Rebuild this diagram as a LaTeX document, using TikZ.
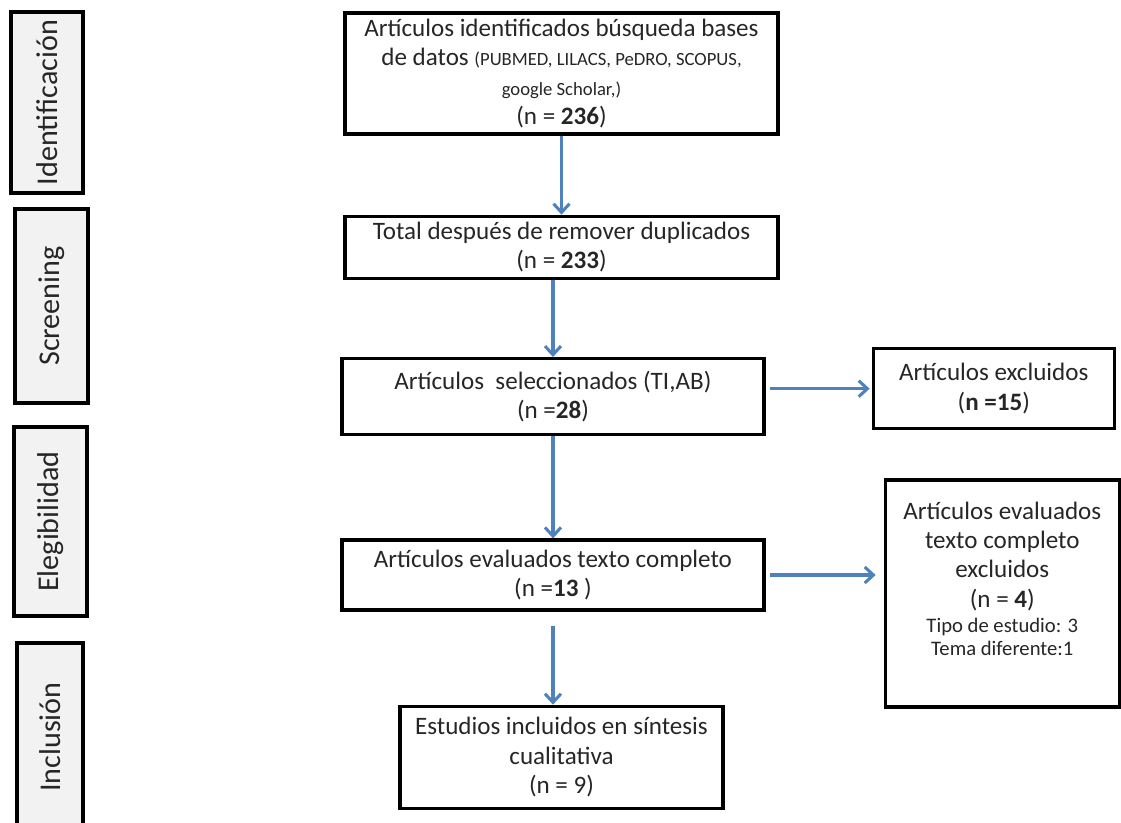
\documentclass[tikz,border=0pt]{standalone}
\usepackage{fontspec}
\setmainfont{Carlito}
\usepackage{tikz}
\usetikzlibrary{positioning,arrows.meta}
\definecolor{flecha}{RGB}{79,129,189}
\definecolor{fondofase}{RGB}{242,242,242}
\definecolor{textocaja}{RGB}{38,38,38}

\begin{document}
\begin{tikzpicture}[x=0.75pt, y=-0.75pt,
    caja/.style={draw=black, line width=2.5pt, align=center, text=textocaja,
                 font=\fontsize{18.8}{22}\selectfont, inner sep=2pt},
    fase/.style={draw=black, line width=2.9pt, fill=fondofase, rotate=90, text=textocaja,
                 font=\fontsize{22.6}{26}\selectfont, inner sep=2pt},
    flujo/.style={draw=flecha, line width=2.3pt, -{Straight Barb[length=6.5pt,width=12pt]}}]
  \useasboundingbox (0,0) rectangle (1121,822);
  \clip (0,0) rectangle (1121,822);
  \node[fase, minimum width=135.75pt, minimum height=54pt] (fid) at (47,102.5) {Identificación};
  \node[fase, minimum width=145.5pt, minimum height=54.75pt] (fsc) at (51.5,306) {Screening};
  \node[fase, minimum width=141.75pt, minimum height=54.75pt] (fel) at (50.5,521.5) {Elegibilidad};
  \node[fase, minimum width=141pt, minimum height=49.5pt] (fin) at (50,737) {Inclusión};
  \node[caja, minimum width=324.75pt, minimum height=90.75pt] (busq) at (561.5,73.5) {%
    Artículos identificados búsqueda bases\\
    de datos {\fontsize{14}{16}\selectfont (PUBMED, LILACS, PeDRO, SCOPUS,}\\
    {\fontsize{14}{16}\selectfont google Scholar,)}\\
    (n = \textbf{236})};
  \node[caja, minimum width=324.75pt, minimum height=46.5pt, below=59.25pt of busq] (dupl) {%
    Total después de remover duplicados\\ (n = \textbf{233})};
  \node[caja, minimum width=316.5pt, minimum height=57pt, below=57.75pt of dupl, xshift=-6.4pt] (sele) {%
    Artículos\ \ seleccionados (TI,AB)\\ (n =\textbf{28})};
  \node[caja, minimum width=316.5pt, minimum height=52.5pt, below=76.5pt of sele] (eval) {%
    Artículos evaluados texto completo\\ (n =\textbf{13} )};
  \node[caja, minimum width=242.25pt, minimum height=76.5pt, below=69.75pt of eval, xshift=6.4pt] (incl) {%
    Estudios incluidos en síntesis\\ cualitativa\\ (n = 9)};
  \node[caja, minimum width=180.75pt, minimum height=60pt, right=79.5pt of sele, yshift=6pt] (excl) {%
    Artículos excluidos\\ (\textbf{n =15})};
  \node[caja, minimum width=175.5pt, minimum height=170.25pt, right=88.5pt of eval, yshift=-13.9pt] (exte) {%
    Artículos evaluados\\ texto completo\\ excluidos\\ (n = \textbf{4})\\[-3pt]
    {\fontsize{15.5}{18}\selectfont Tipo de estudio: 3}\\[-4.5pt]
    {\fontsize{15.5}{18}\selectfont Tema diferente:1}\\ \mbox{}};
  \draw[flujo] (busq) -- (dupl);
  \draw[flujo] (dupl.south -| sele) -- (sele.north);
  \draw[flujo] (sele) -- (eval);
  \draw[flujo, shorten <=11pt] (eval.south) -- (eval.south |- incl.north);
  \draw[flujo, shorten <=3pt, shorten >=1.5pt] (sele.east |- excl) -- (excl.west);
  \draw[flujo, shorten <=3pt, shorten >=6pt] (eval.east) -- (eval.east -| exte.west);
\end{tikzpicture}
\end{document}
